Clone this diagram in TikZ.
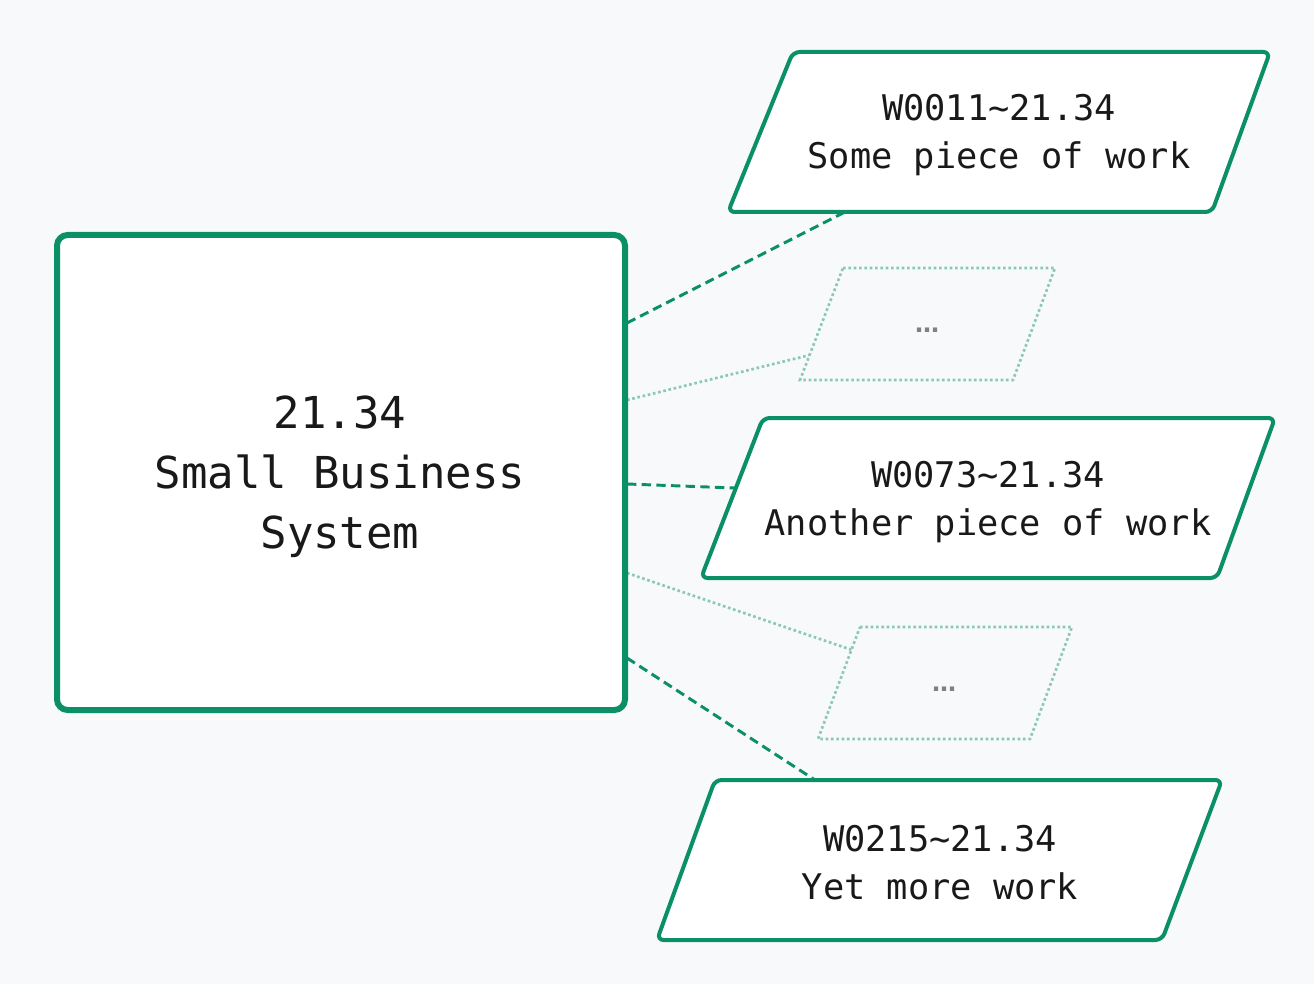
\documentclass[tikz,border=0pt]{standalone}
\usepackage{fontspec}
\setmonofont{DejaVu Sans Mono}
\newfontfamily\dejasans{DejaVu Sans}
\begin{document}
\definecolor{bg}{HTML}{F8F9FB}
\definecolor{grn}{HTML}{0B8F67}
\definecolor{lgrn}{HTML}{8CC9B4}
\begin{tikzpicture}[x=0.75pt,y=-0.75pt,
  box/.style={draw=grn,line width=3pt,fill=white,rounded corners=5pt},
  ghost/.style={draw=lgrn,line width=2pt,dotted,fill=bg},
  dashcon/.style={draw=grn,line width=2.2pt,dash pattern=on 7pt off 4pt},
  dotcon/.style={draw=lgrn,line width=2pt,dotted},
  big/.style={font=\ttfamily\fontsize{33}{45}\selectfont,align=center,text=black!90},
  small/.style={font=\ttfamily\fontsize{26.5}{36}\selectfont,align=center,text=black!90},
  ell/.style={font=\dejasans\bfseries\fontsize{18}{18}\selectfont,text=gray}]
\fill[bg] (0,0) rectangle (1314,984);
\useasboundingbox (0,0) rectangle (1314,984);
\coordinate (a1) at (627,323); \coordinate (b1) at (845,212);
\coordinate (a2) at (627,400); \coordinate (b2) at (810,355);
\coordinate (a3) at (627,484); \coordinate (b3) at (735,488);
\coordinate (a4) at (627,573); \coordinate (b4) at (852,650);
\coordinate (a5) at (627,658); \coordinate (b5) at (815,780);
\draw[dashcon] (a1) -- (b1);
\draw[dotcon] (a2) -- (b2);
\draw[dashcon] (a3) -- (b3);
\draw[dotcon] (a4) -- (b4);
\draw[dashcon] (a5) -- (b5);
\draw[draw=grn,line width=4.5pt,fill=white,rounded corners=8pt] (57,235) rectangle (625,710);
\node[big] (main) at (340,477) {21.34\\Small Business\\System};
\draw[box] (793,52) -- (1270,52) -- (1212,212) -- (728,212) -- cycle;
\node[small] (w1) at (999,135) {W0011\textasciitilde21.34\\Some piece of work};
\draw[ghost] (843,268) -- (1055,268) -- (1013,380) -- (800,380) -- cycle;
\node[ell] (g1) at (927,330) {…};
\draw[box] (763,418) -- (1275,418) -- (1217,578) -- (701,578) -- cycle;
\node[small] (w2) at (988,502) {W0073\textasciitilde21.34\\Another piece of work};
\draw[ghost] (860,627) -- (1072,627) -- (1030,739) -- (818,739) -- cycle;
\node[ell] (g2) at (944,689) {…};
\draw[box] (715,780) -- (1222,780) -- (1162,940) -- (657,940) -- cycle;
\node[small] (w3) at (940,863) {W0215\textasciitilde21.34\\Yet more work};
\end{tikzpicture}
\end{document}
